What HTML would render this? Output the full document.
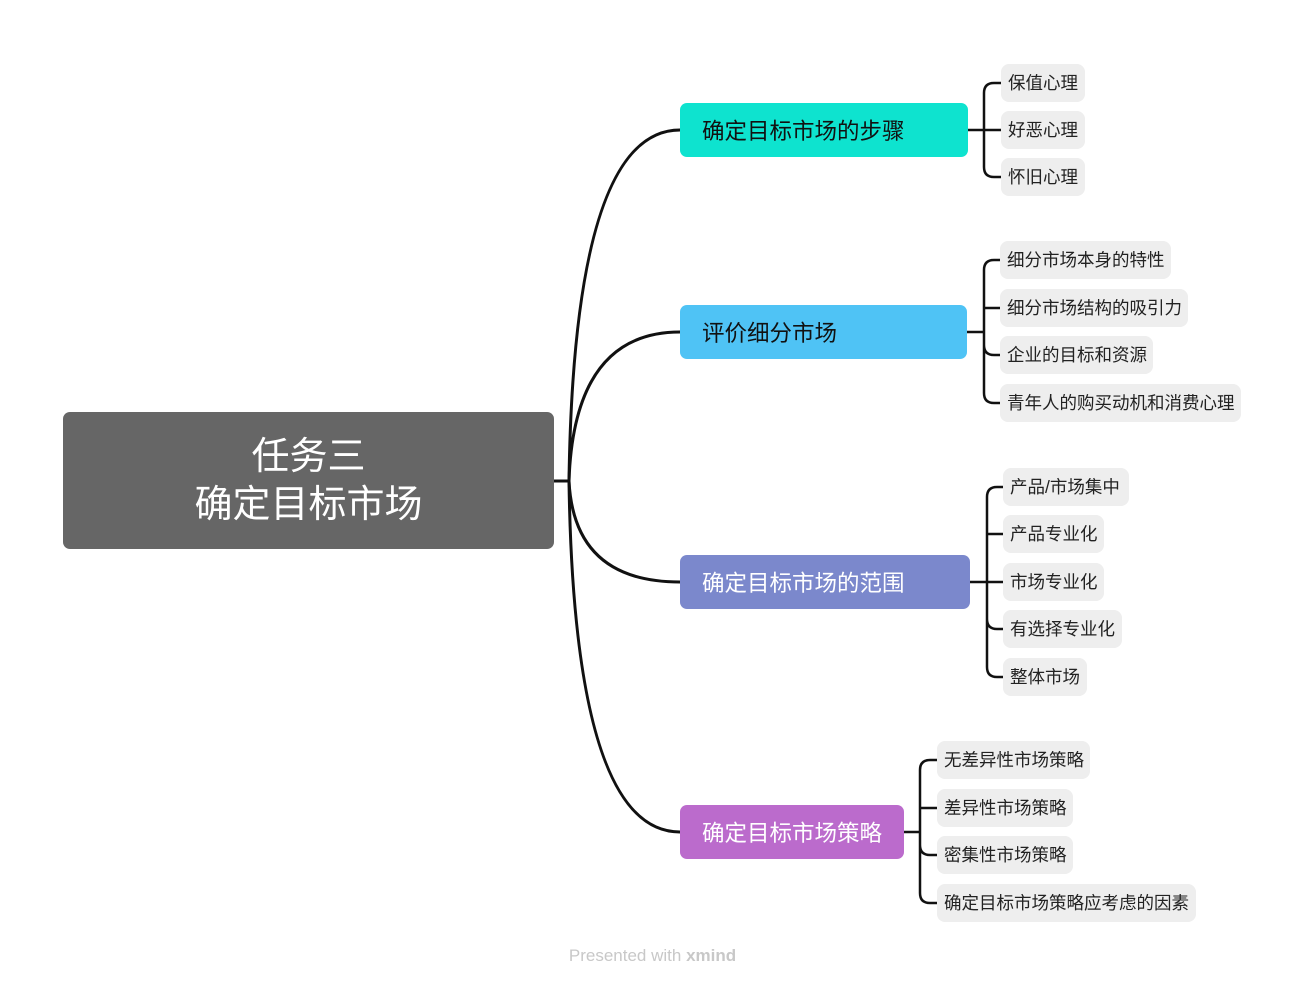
<!DOCTYPE html>
<html><head><meta charset="utf-8"><style>
body{margin:0;width:1305px;height:986px;background:#fff;position:relative;overflow:hidden;font-family:"Liberation Sans","Noto Sans CJK SC",sans-serif}
.n{position:absolute;display:flex;align-items:center;box-sizing:border-box;border-radius:7px}
.m{font-size:22.5px;padding-left:22px;height:54px}
.l{font-size:17.5px;background:#eeeeee;color:#222;height:38px;padding-left:7px;padding-bottom:2px;border-radius:8px}
svg{position:absolute;left:0;top:0}
</style></head><body>
<svg width="1305" height="986" fill="none" stroke="#111" stroke-width="3" stroke-linecap="round">
<path d="M554 481H569"/>
<path d="M569 481Q574 130 680 130"/>
<path d="M569 481Q574 332 680 332"/>
<path d="M569 481Q574 582 680 582"/>
<path d="M569 481Q574 832 680 832"/>
<g stroke-width="2.5">
<path d="M968 130H1001M984 130V93q0-10 10-10h7M984 130V167q0 10 10 10h7"/>
<path d="M967 332H984M984 332V270q0-10 10-10h6M984 308h16M984 332V345q0 10 10 10h6M984 332V393q0 10 10 10h6"/>
<path d="M970 582H1003M987 582V497q0-10 10-10h6M987 534h16M987 582V619q0 10 10 10h6M987 582V667q0 10 10 10h6"/>
<path d="M904 832H920M920 832V770q0-10 10-10h7M920 808h17M920 832V845q0 10 10 10h7M920 832V893q0 10 10 10h7"/>
</g></svg>
<div class="n" style="left:63px;top:412px;width:491px;height:137px;background:#666;color:#fff;font-size:38px;justify-content:center;text-align:center;line-height:48px">任务三<br>确定目标市场</div>
<div class="n m" style="left:680px;top:103px;width:288px;background:#0ee3cf;color:#111">确定目标市场的步骤</div>
<div class="n m" style="left:680px;top:305px;width:287px;background:#4fc3f5;color:#111">评价细分市场</div>
<div class="n m" style="left:680px;top:555px;width:290px;background:#7b88cc;color:#fff">确定目标市场的范围</div>
<div class="n m" style="left:680px;top:805px;width:224px;background:#bb6bcc;color:#fff">确定目标市场策略</div>
<div class="n l" style="left:1001px;top:64px;width:84px">保值心理</div>
<div class="n l" style="left:1001px;top:111px;width:84px">好恶心理</div>
<div class="n l" style="left:1001px;top:158px;width:84px">怀旧心理</div>
<div class="n l" style="left:1000px;top:241px;width:171px">细分市场本身的特性</div>
<div class="n l" style="left:1000px;top:289px;width:188px">细分市场结构的吸引力</div>
<div class="n l" style="left:1000px;top:336px;width:153px">企业的目标和资源</div>
<div class="n l" style="left:1000px;top:384px;width:241px">青年人的购买动机和消费心理</div>
<div class="n l" style="left:1003px;top:468px;width:126px">产品/市场集中</div>
<div class="n l" style="left:1003px;top:515px;width:101px">产品专业化</div>
<div class="n l" style="left:1003px;top:563px;width:101px">市场专业化</div>
<div class="n l" style="left:1003px;top:610px;width:119px">有选择专业化</div>
<div class="n l" style="left:1003px;top:658px;width:84px">整体市场</div>
<div class="n l" style="left:937px;top:741px;width:153px">无差异性市场策略</div>
<div class="n l" style="left:937px;top:789px;width:136px">差异性市场策略</div>
<div class="n l" style="left:937px;top:836px;width:136px">密集性市场策略</div>
<div class="n l" style="left:937px;top:884px;width:259px">确定目标市场策略应考虑的因素</div>
<div style="position:absolute;left:0;width:1305px;top:946px;text-align:center;font-size:17px;color:#c8c8c8">Presented with <b>xmind</b></div>
</body></html>
